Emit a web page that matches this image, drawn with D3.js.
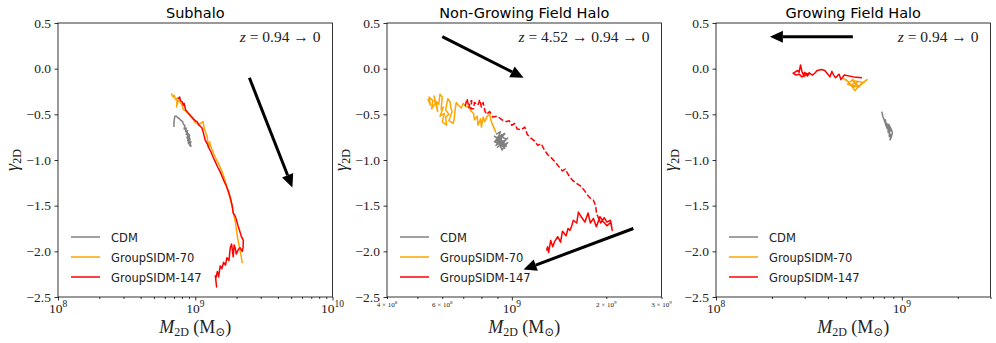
<!DOCTYPE html>
<html>
<head>
<meta charset="utf-8">
<script src="https://cdn.jsdelivr.net/npm/d3@7"></script>
<style>
body { margin: 0; background: #fff; }
svg { display: block; }
</style>
</head>
<body>
<svg width="996" height="343"></svg>
<script>
// masses are in units of 1e9 Msun, second value is gamma_2D
var subCDM = [[0.70,-0.64],[0.70,-0.58],[0.71,-0.52],[0.73,-0.52],[0.75,-0.54],[0.77,-0.55],[0.79,-0.57],[0.81,-0.58],[0.82,-0.61],[0.84,-0.62],[0.83,-0.66],[0.86,-0.65],[0.85,-0.69],[0.88,-0.68],[0.86,-0.72],[0.89,-0.71],[0.87,-0.76],[0.90,-0.74],[0.88,-0.79],[0.92,-0.77],[0.89,-0.81],[0.93,-0.80],[0.91,-0.84],[0.93,-0.85],[0.90,-0.78],[0.87,-0.70],[0.91,-0.73],[0.89,-0.83]];
var subS70 = [[0.668,-0.27],[0.69,-0.31],[0.70,-0.29],[0.72,-0.34],[0.74,-0.32],[0.73,-0.42],[0.75,-0.35],[0.78,-0.37],[0.80,-0.40],[0.82,-0.45],[0.85,-0.46],[0.89,-0.49],[0.93,-0.53],[0.97,-0.56],[1.00,-0.59],[1.03,-0.60],[1.06,-0.62],[1.09,-0.60],[1.14,-0.58],[1.16,-0.65],[1.20,-0.71],[1.22,-0.74],[1.245,-0.86],[1.27,-0.80],[1.29,-0.84],[1.33,-0.89],[1.37,-0.94],[1.40,-0.97],[1.44,-1.01],[1.47,-1.03],[1.52,-1.08],[1.57,-1.13],[1.62,-1.19],[1.66,-1.24],[1.70,-1.30],[1.74,-1.35],[1.79,-1.42],[1.84,-1.49],[1.89,-1.57],[1.93,-1.63],[1.97,-1.70],[2.00,-1.78],[2.05,-1.88],[2.11,-1.97],[2.16,-2.05],[2.20,-2.13]];
var subS147 = [[0.75,-0.33],[0.77,-0.31],[0.78,-0.35],[0.80,-0.36],[0.82,-0.40],[0.83,-0.38],[0.85,-0.45],[0.88,-0.48],[0.92,-0.51],[0.96,-0.54],[1.00,-0.57],[1.03,-0.58],[1.07,-0.62],[1.12,-0.65],[1.15,-0.71],[1.18,-0.78],[1.22,-0.82],[1.26,-0.87],[1.30,-0.91],[1.35,-0.97],[1.40,-1.02],[1.46,-1.08],[1.52,-1.13],[1.58,-1.19],[1.63,-1.24],[1.68,-1.28],[1.71,-1.31],[1.76,-1.36],[1.80,-1.41],[1.84,-1.47],[1.87,-1.52],[1.89,-1.58],[1.96,-1.62],[2.00,-1.66],[2.05,-1.72],[2.10,-1.77],[2.16,-1.83],[2.24,-1.88],[2.23,-1.96],[2.20,-2.00],[2.12,-1.96],[2.06,-1.98],[1.99,-2.03],[1.96,-1.97],[1.92,-1.93],[1.89,-2.06],[1.84,-1.92],[1.80,-1.96],[1.76,-2.10],[1.70,-2.07],[1.66,-2.15],[1.61,-2.12],[1.56,-2.19],[1.52,-2.16],[1.48,-2.28],[1.45,-2.22],[1.41,-2.30],[1.43,-2.39],[1.40,-2.26]];

var ngCDM = [[0.89,-0.72],[0.92,-0.69],[0.90,-0.77],[0.94,-0.73],[0.91,-0.81],[0.95,-0.79],[0.92,-0.86],[0.96,-0.77],[0.93,-0.75],[0.88,-0.80],[0.94,-0.84],[0.97,-0.81],[0.93,-0.89],[0.90,-0.75],[0.95,-0.71],[0.89,-0.84],[0.93,-0.79],[0.96,-0.85],[0.91,-0.78],[0.88,-0.74],[0.94,-0.80],[0.90,-0.86],[0.97,-0.76],[0.92,-0.82],[0.95,-0.87],[0.89,-0.78],[0.93,-0.72]];
var ngS70 = [[0.54,-0.33],[0.55,-0.40],[0.545,-0.31],[0.56,-0.35],[0.555,-0.44],[0.57,-0.38],[0.565,-0.30],[0.58,-0.47],[0.575,-0.36],[0.585,-0.39],[0.59,-0.28],[0.60,-0.31],[0.595,-0.45],[0.605,-0.42],[0.59,-0.52],[0.61,-0.49],[0.60,-0.58],[0.62,-0.62],[0.615,-0.53],[0.63,-0.50],[0.615,-0.45],[0.625,-0.33],[0.635,-0.36],[0.64,-0.44],[0.645,-0.47],[0.63,-0.57],[0.65,-0.60],[0.655,-0.55],[0.66,-0.44],[0.665,-0.37],[0.675,-0.40],[0.69,-0.43],[0.70,-0.38],[0.715,-0.42],[0.73,-0.41],[0.74,-0.46],[0.755,-0.49],[0.76,-0.56],[0.775,-0.52],[0.78,-0.62],[0.795,-0.55],[0.80,-0.64],[0.81,-0.53],[0.82,-0.58],[0.835,-0.52],[0.85,-0.50],[0.86,-0.58],[0.875,-0.64],[0.89,-0.70]];
var ngS147Early = [[0.71,-0.41],[0.72,-0.33],[0.73,-0.43],[0.735,-0.36],[0.745,-0.35],[0.74,-0.44],[0.755,-0.44],[0.76,-0.37],[0.78,-0.40],[0.79,-0.34],[0.80,-0.42],[0.81,-0.37],[0.82,-0.46],[0.83,-0.50],[0.85,-0.47],[0.87,-0.53],[0.90,-0.52],[0.93,-0.56],[0.96,-0.58],[0.98,-0.57],[1.00,-0.62],[1.02,-0.60],[1.04,-0.66],[1.07,-0.67],[1.10,-0.64],[1.12,-0.72],[1.15,-0.76],[1.18,-0.79],[1.21,-0.84],[1.24,-0.82],[1.27,-0.89],[1.30,-0.94],[1.34,-0.98],[1.38,-1.03],[1.41,-1.07],[1.45,-1.12],[1.48,-1.10],[1.52,-1.17],[1.56,-1.22],[1.60,-1.25],[1.65,-1.28],[1.70,-1.33],[1.74,-1.38],[1.78,-1.42],[1.82,-1.44],[1.85,-1.50],[1.86,-1.57],[1.87,-1.60]];
var ngS147Late = [[1.87,-1.60],[1.92,-1.69],[1.97,-1.63],[2.01,-1.68],[2.06,-1.66],[2.09,-1.77],[2.07,-1.68],[2.01,-1.72],[1.95,-1.67],[1.91,-1.62],[1.86,-1.73],[1.82,-1.64],[1.78,-1.69],[1.75,-1.58],[1.71,-1.68],[1.67,-1.63],[1.63,-1.57],[1.61,-1.69],[1.57,-1.66],[1.55,-1.73],[1.53,-1.77],[1.51,-1.75],[1.49,-1.83],[1.45,-1.78],[1.43,-1.90],[1.40,-1.84],[1.37,-1.89],[1.35,-1.95],[1.33,-1.88],[1.31,-2.01],[1.30,-1.95],[1.29,-1.99]];

var grCDM = [[0.78,-0.47],[0.79,-0.52],[0.80,-0.55],[0.81,-0.58],[0.82,-0.62],[0.815,-0.56],[0.83,-0.65],[0.84,-0.63],[0.845,-0.70],[0.86,-0.68],[0.855,-0.74],[0.87,-0.72],[0.865,-0.78],[0.88,-0.74],[0.89,-0.70],[0.875,-0.66],[0.85,-0.61],[0.86,-0.71],[0.83,-0.60],[0.87,-0.69]];
var grS70 = [[0.48,-0.10],[0.52,-0.15],[0.50,-0.12],[0.55,-0.21],[0.58,-0.14],[0.53,-0.18],[0.56,-0.24],[0.60,-0.17],[0.65,-0.12],[0.57,-0.22],[0.62,-0.15],[0.54,-0.13],[0.59,-0.20],[0.51,-0.17],[0.55,-0.11]];
var grS147 = [[0.61,-0.10],[0.55,-0.09],[0.49,-0.07],[0.47,-0.12],[0.46,-0.06],[0.44,-0.10],[0.43,-0.07],[0.42,-0.03],[0.41,-0.09],[0.40,-0.06],[0.385,-0.02],[0.37,-0.01],[0.35,-0.02],[0.34,-0.05],[0.33,-0.07],[0.32,-0.05],[0.31,-0.08],[0.30,-0.04],[0.295,-0.07],[0.29,-0.03],[0.285,0.04],[0.28,-0.04],[0.275,-0.02],[0.265,-0.04],[0.26,-0.05],[0.27,-0.07],[0.28,-0.06],[0.29,-0.09],[0.30,-0.08],[0.305,-0.05],[0.31,-0.06],[0.32,-0.04]];

// arrows: [from, to] in the same units
var subArrows = [[[2.48,-0.10],[5.1,-1.30]]];
var ngArrows = [[[0.60,0.35],[1.09,-0.10]], [[2.44,-1.75],[1.09,-2.20]]];
var grArrows = [[[0.545,0.35],[0.195,0.35]]];

var titles = ["Subhalo", "Non-Growing Field Halo", "Growing Field Halo"];
var zLabels = [" = 0.94 \u2192 0", " = 4.52 \u2192 0.94 \u2192 0", " = 0.94 \u2192 0"];
var legendNames = ["CDM", "GroupSIDM-70", "GroupSIDM-147"];
var colors = ["#808080", "#ffa500", "#ff0000"];
var yTicks = [-2.5, -2.0, -1.5, -1.0, -0.5, 0.0, 0.5];

var svg = d3.select("svg");
var TOP = 23, H = 274, W = 274.5;
var serif = "'Liberation Serif', 'DejaVu Serif', serif";
var sans = "'DejaVu Sans', sans-serif";

var panels = [
    { left: 58, domain: [1e8, 1e10], major: [1e8, 1e9, 1e10],
      minor: [2e8,3e8,4e8,5e8,6e8,7e8,8e8,9e8,2e9,3e9,4e9,5e9,6e9,7e9,8e9,9e9], minorLabels: [],
      lines: [[subCDM, 0, false], [subS70, 1, false], [subS147, 2, false]], arrows: subArrows },
    { left: 387, domain: [4e8, 3e9], major: [1e9],
      minor: [4e8,5e8,6e8,7e8,8e8,9e8,2e9,3e9], minorLabels: [4e8, 6e8, 2e9, 3e9],
      lines: [[ngCDM, 0, false], [ngS70, 1, false], [ngS147Early, 2, true], [ngS147Late, 2, false]], arrows: ngArrows },
    { left: 716, domain: [1e8, 3e9], major: [1e8, 1e9],
      minor: [2e8,3e8,4e8,5e8,6e8,7e8,8e8,9e8,2e9,3e9], minorLabels: [],
      lines: [[grCDM, 0, false], [grS70, 1, false], [grS147, 2, false]], arrows: grArrows }
];

panels.forEach(function(p, i) {
    var g = svg.append("g");
    var x = d3.scaleLog().domain(p.domain).range([p.left, p.left + W]);
    var y = d3.scaleLinear().domain([-2.5, 0.5]).range([TOP + H, TOP]);

    // ticks
    var minorAx = g.append("g")
        .attr("transform", "translate(0," + (TOP + H) + ")")
        .call(d3.axisBottom(x).tickValues(p.minor).tickSize(2).tickFormat(""));
    var majorAx = g.append("g")
        .attr("transform", "translate(0," + (TOP + H) + ")")
        .call(d3.axisBottom(x).tickValues(p.major).tickSize(3.5).tickFormat(""));
    var yAx = g.append("g")
        .attr("transform", "translate(" + p.left + ",0)")
        .call(d3.axisLeft(y).tickValues(yTicks).tickSize(3.5).tickPadding(3.5).tickFormat(d3.format(".1f")));
    [minorAx, majorAx, yAx].forEach(function(a) {
        a.select(".domain").remove();
        a.selectAll("line").attr("stroke", "#000").attr("stroke-width", 0.8);
    });
    yAx.selectAll("text").attr("font-family", serif).attr("font-size", 13.5).attr("fill", "#222");

    // major x labels 10^n
    p.major.forEach(function(v) {
        var t = g.append("text")
            .attr("x", x(v)).attr("y", TOP + H + 16)
            .attr("text-anchor", "middle")
            .attr("font-family", serif).attr("font-size", 13.5).attr("fill", "#222");
        t.append("tspan").text("10");
        t.append("tspan").attr("dy", -6).attr("font-size", 9.5).text(Math.round(Math.log10(v)));
    });
    // minor x labels a x 10^n
    p.minorLabels.forEach(function(v) {
        var e = Math.floor(Math.log10(v) + 1e-9);
        var m = Math.round(v / Math.pow(10, e));
        var t = g.append("text")
            .attr("x", x(v)).attr("y", TOP + H + 10)
            .attr("text-anchor", "middle")
            .attr("font-family", serif).attr("font-size", 7).attr("fill", "#222");
        t.append("tspan").text(m + " \u00d7 10");
        t.append("tspan").attr("dy", -3).attr("font-size", 5).text(e);
    });

    // frame
    g.append("rect")
        .attr("x", p.left).attr("y", TOP).attr("width", W).attr("height", H)
        .attr("fill", "none").attr("stroke", "#000").attr("stroke-width", 0.8);

    // title
    g.append("text")
        .attr("x", p.left + W / 2).attr("y", 18)
        .attr("text-anchor", "middle")
        .attr("font-family", sans).attr("font-size", 14.5).attr("fill", "#000")
        .text(titles[i]);

    // axis labels
    var xl = g.append("text")
        .attr("x", p.left + W / 2).attr("y", 333)
        .attr("text-anchor", "middle")
        .attr("font-family", serif).attr("font-size", 18).attr("fill", "#222");
    xl.append("tspan").attr("font-style", "italic").text("M");
    xl.append("tspan").attr("dy", 3).attr("font-size", 12).text("2D");
    xl.append("tspan").attr("dy", -3).text(" (M");
    xl.append("tspan").attr("dy", 3).attr("font-size", 12).text("\u2299");
    xl.append("tspan").attr("dy", -3).text(")");

    var yl = g.append("text")
        .attr("transform", "translate(" + (p.left - 40) + "," + (TOP + H / 2) + ") rotate(-90)")
        .attr("text-anchor", "middle")
        .attr("font-family", serif).attr("font-size", 18).attr("fill", "#222");
    yl.append("tspan").attr("font-style", "italic").text("\u03b3");
    yl.append("tspan").attr("dy", 3).attr("font-size", 12).text("2D");

    // redshift note
    var zt = g.append("text")
        .attr("x", p.left + W - 12).attr("y", 42)
        .attr("text-anchor", "end")
        .attr("font-family", serif).attr("font-size", 15.5).attr("fill", "#222")
        .attr("xml:space", "preserve");
    zt.append("tspan").attr("font-style", "italic").text("z");
    zt.append("tspan").text(zLabels[i]);

    // tracks
    var line = d3.line()
        .x(function(d) { return x(d[0] * 1e9); })
        .y(function(d) { return y(d[1]); });
    p.lines.forEach(function(l) {
        g.append("path")
            .attr("d", line(l[0]))
            .attr("fill", "none")
            .attr("stroke", colors[l[1]])
            .attr("stroke-width", 1.5)
            .attr("stroke-linejoin", "round")
            .attr("stroke-dasharray", l[2] ? "5.5,2.4" : null);
    });

    // arrows
    p.arrows.forEach(function(a) {
        var x0 = x(a[0][0] * 1e9), y0 = y(a[0][1]);
        var x1 = x(a[1][0] * 1e9), y1 = y(a[1][1]);
        var ang = Math.atan2(y1 - y0, x1 - x0);
        var hl = 13, hw = 6;
        var bx = x1 - hl * Math.cos(ang), by = y1 - hl * Math.sin(ang);
        g.append("line")
            .attr("x1", x0).attr("y1", y0).attr("x2", bx).attr("y2", by)
            .attr("stroke", "#000").attr("stroke-width", 3);
        g.append("path")
            .attr("d", "M" + x1 + "," + y1 +
                "L" + (bx + hw * Math.sin(ang)) + "," + (by - hw * Math.cos(ang)) +
                "L" + (bx - hw * Math.sin(ang)) + "," + (by + hw * Math.cos(ang)) + "Z")
            .attr("fill", "#000");
    });

    // legend
    legendNames.forEach(function(name, k) {
        var ly = 237 + k * 20;
        g.append("line")
            .attr("x1", p.left + 13).attr("x2", p.left + 42)
            .attr("y1", ly).attr("y2", ly)
            .attr("stroke", colors[k]).attr("stroke-width", 1.5);
        g.append("text")
            .attr("x", p.left + 53).attr("y", ly + 4.5)
            .attr("font-family", sans).attr("font-size", 11.5).attr("fill", "#222")
            .text(name);
    });
});
</script>
</body>
</html>
